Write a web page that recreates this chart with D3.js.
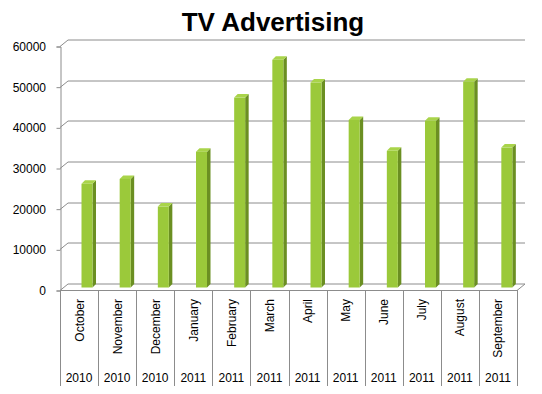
<!DOCTYPE html>
<html><head><meta charset="utf-8">
<script src="https://cdn.jsdelivr.net/npm/d3@7/dist/d3.min.js"></script>
<style>body{margin:0;background:#fff}</style>
</head><body>
<svg id="c" width="542" height="394"></svg>
<script>
const months = ["October","November","December","January","February","March","April","May","June","July","August","September"];
const years = ["2010","2010","2010","2011","2011","2011","2011","2011","2011","2011","2011","2011"];
const values = [25500,26700,19900,33400,46700,56000,50400,41200,33600,41000,50600,34400];
const yTicks = [0,10000,20000,30000,40000,50000,60000];
const title = "TV Advertising";

const svg = d3.select("#c");
const FONT = "Liberation Sans, Arial, sans-serif";
const DX = 8, DY = -6.5;
const x = d3.scaleBand().domain(months).range([60, 517]);
const xBar = d3.scaleBand().domain(months).range([63.5, 521.5]);
const y = d3.scaleLinear().domain([0,60000]).range([290, 46]);
const yBar = d3.scaleLinear().domain([0,60000]).range([287.5, 43.5]);
const grid = "#8c8c8c";

svg.append("text").attr("x", 273).attr("y", 31).attr("text-anchor","middle")
  .attr("font-family",FONT).attr("font-weight","bold")
  .attr("font-size", 26).attr("fill","#000").text(title);

// back wall gridlines + left wall diagonals
const g = svg.append("g").attr("stroke", grid).attr("stroke-width",1).attr("fill","none");
yTicks.forEach(t => {
  const yy = Math.round(y(t)) + 0.5;
  g.append("path").attr("d", `M60,${yy}L${60+DX},${yy+DY}L${517+DX},${yy+DY}`);
});
// floor
g.append("path").attr("d", `M60,290.5L517,290.5L${517+DX},${290.5+DY}`);
// axis
const yAxis = d3.axisLeft(y).tickValues(yTicks).tickSize(4).tickFormat(d3.format("d"));
const ax = svg.append("g").attr("transform","translate(60.5,0.5)").call(yAxis);
ax.select(".domain").attr("stroke", grid);
ax.selectAll(".tick line").attr("stroke", grid);
ax.selectAll(".tick text").attr("font-family",FONT).attr("font-size",12).attr("fill","#000").attr("x",-14.5);

// bars
const bw = 11, bd = 3.5, bdy = -3.5;
const bars = svg.append("g");
months.forEach((m, i) => {
  const bx = xBar(m) + 18;
  const top = yBar(values[i]);
  const bot = yBar(0);
  bars.append("path").attr("d", `M${bx+bw},${top}L${bx+bw+bd},${top+bdy}L${bx+bw+bd},${bot+bdy}L${bx+bw},${bot}Z`).attr("fill","#6b8f22");
  bars.append("path").attr("d", `M${bx},${top}L${bx+bd},${top+bdy}L${bx+bw+bd},${top+bdy}L${bx+bw},${top}Z`).attr("fill","#a9d44a");
  bars.append("rect").attr("x", bx).attr("y", top).attr("width", bw).attr("height", bot-top).attr("fill","#9bc93a");
});

// category separators and labels
const cat = svg.append("g");
d3.range(13).forEach(i => {
  const xx = Math.round(60 + i*x.step()) + 0.5;
  cat.append("line").attr("x1",xx).attr("x2",xx).attr("y1",290).attr("y2",386).attr("stroke",grid);
});
months.forEach((m,i) => {
  const cx = x(m) + x.bandwidth()/2;
  cat.append("text").attr("transform",`translate(${cx+4.5},299) rotate(-90)`)
    .attr("text-anchor","end").attr("font-family",FONT)
    .attr("font-size",12).attr("fill","#000").text(m);
  cat.append("text").attr("x",cx).attr("y",382).attr("text-anchor","middle")
    .attr("font-family",FONT).attr("font-size",12).attr("fill","#000").text(years[i]);
});
</script>
</body></html>
